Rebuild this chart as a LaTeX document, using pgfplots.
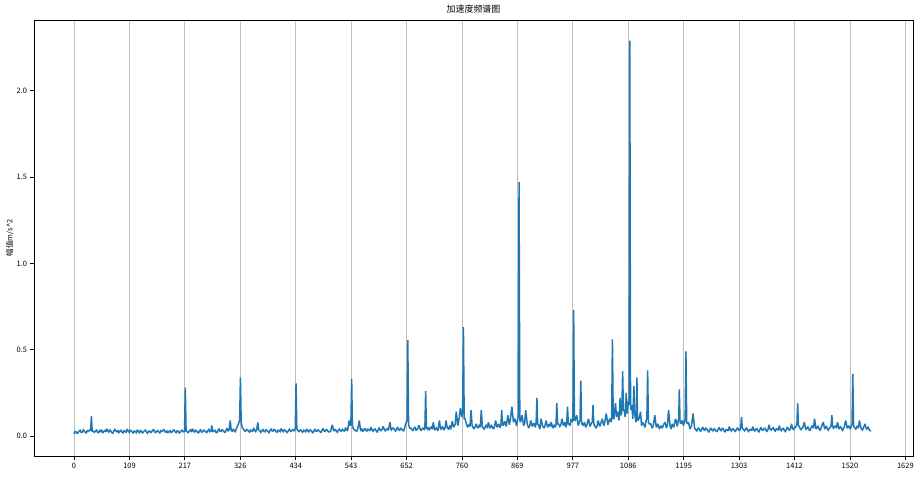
\documentclass[border=0pt]{standalone}
\usepackage{fontspec}
\setmainfont{Noto Sans CJK SC}
\usepackage{pgfplots}
\pgfplotsset{compat=1.18}
\definecolor{mplblue}{HTML}{1F77B4}
\begin{document}
\begin{tikzpicture}
\begin{axis}[
  scale only axis, width=879bp, height=436bp,
  xmin=-78.5, xmax=1644, ymin=-0.116, ymax=2.41,
  xtick={0,108.6,217.2,325.8,434.4,543,651.6,760.2,868.8,977.4,1086,1194.6,1303.2,1411.8,1520.4,1629},
  xticklabels={0,109,217,326,434,543,652,760,869,977,1086,1195,1303,1412,1520,1629},
  ytick={0,0.5,1,1.5,2},
  yticklabels={0.0,0.5,1.0,1.5,2.0},
  xmajorgrids,
  grid style={color=black!25, line width=0.8bp},
  tick align=outside, tick pos=left,
  major tick length=3.5bp,
  tick style={black, line width=0.8bp},
  axis line style={black, line width=0.8bp},
  ticklabel style={font=\fontsize{7.5}{9}\selectfont},
  title={加速度频谱图},
  title style={font=\fontsize{9}{11}\selectfont, yshift=-3bp},
  ylabel={幅值m/s\textasciicircum 2},
  ylabel style={font=\fontsize{7.5}{9}\selectfont, yshift=-4bp},
]
\addplot[mplblue, line width=1.5bp, line join=miter, miter limit=2] coordinates {
(0,0.012)(2,0.026)(4,0.024)(6,0.015)(8,0.019)(10,0.029)(12,0.033)(14,0.020)(16,0.022)(18,0.035)(20,0.030)(22,0.021)(24,0.018)(26,0.031)(28,0.027)(31,0.036)(32.5,0.030)(34,0.115)(35.5,0.028)(37,0.028)(40,0.021)(42,0.030)(44,0.034)(46,0.022)(48,0.019)(50,0.032)(52,0.026)(54,0.036)(56,0.017)(58,0.025)(60,0.031)(62,0.024)(64,0.042)(66,0.028)(68,0.022)(70,0.035)(72,0.029)(74,0.019)(76,0.016)(78,0.030)(80,0.038)(82,0.027)(84,0.024)(86,0.033)(88,0.020)(90,0.028)(92,0.033)(94,0.021)(96,0.018)(98,0.031)(100,0.027)(102,0.020)(104,0.040)(106,0.029)(108,0.021)(110,0.034)(112,0.030)(114,0.022)(116,0.017)(118,0.029)(120,0.025)(122,0.019)(124,0.036)(126,0.026)(128,0.019)(130,0.032)(132,0.028)(134,0.018)(136,0.022)(138,0.031)(140,0.034)(142,0.023)(144,0.016)(146,0.027)(148,0.029)(150,0.020)(152,0.023)(154,0.033)(156,0.037)(158,0.024)(160,0.020)(162,0.028)(164,0.031)(166,0.022)(168,0.018)(170,0.030)(172,0.026)(174,0.031)(176,0.039)(178,0.025)(180,0.022)(182,0.029)(184,0.017)(186,0.026)(188,0.030)(190,0.020)(192,0.024)(194,0.032)(196,0.035)(198,0.023)(200,0.019)(202,0.030)(204,0.028)(206,0.018)(208,0.021)(210,0.031)(212,0.033)(214,0.024)(216.5,0.026)(218,0.28)(219.5,0.030)(222,0.024)(224,0.020)
(226,0.030)(228,0.034)(230,0.023)(232,0.043)(234,0.028)(236,0.022)(238,0.033)(240,0.029)(242,0.021)(244,0.018)(246,0.031)(248,0.036)(250,0.022)(252,0.025)(254,0.034)(256,0.031)(258,0.024)(260,0.020)(262,0.030)(264,0.038)(266,0.025)(268,0.027)(270,0.060)(272,0.024)(274,0.030)(276,0.033)(278,0.022)(280,0.019)(282,0.032)(284,0.040)(286,0.027)(288,0.026)(290,0.036)(292,0.032)(294,0.024)(296,0.021)(298,0.034)(300,0.045)(302,0.030)(304,0.036)(306,0.090)(308,0.032)(310,0.028)(312,0.041)(314,0.030)(316,0.025)(319,0.050)(322,0.070)(324.5,0.090)(326,0.340)(327.5,0.080)(330,0.045)(332,0.040)(334,0.030)(336,0.027)(338,0.038)(340,0.036)(342,0.027)(344,0.022)(346,0.034)(348,0.031)(350,0.025)(352,0.047)(354,0.032)(356,0.026)(358,0.038)(360,0.078)(362,0.034)(364,0.030)(366,0.021)(368,0.030)(370,0.037)(372,0.026)(374,0.024)(376,0.036)(378,0.033)(380,0.025)(382,0.019)(384,0.031)(386,0.042)(388,0.030)(390,0.028)(392,0.038)(394,0.035)(396,0.024)(398,0.022)(400,0.034)(402,0.030)(404,0.025)(406,0.044)(408,0.031)(410,0.025)(412,0.036)(414,0.032)(416,0.024)(418,0.020)(420,0.031)(422,0.039)(424,0.028)(426,0.027)(428,0.036)(430,0.034)(432,0.028)(433.5,0.045)(435,0.305)(436.5,0.040)(439,0.030)(441,0.026)
(442,0.031)(444,0.035)(446,0.027)(448,0.022)(450,0.033)(452,0.030)(454,0.024)(456,0.041)(458,0.030)(460,0.024)(462,0.035)(464,0.033)(466,0.025)(468,0.019)(470,0.030)(472,0.038)(474,0.028)(476,0.027)(478,0.036)(480,0.031)(482,0.024)(484,0.021)(486,0.033)(488,0.043)(490,0.029)(492,0.026)(494,0.037)(496,0.034)(498,0.026)(500,0.023)(503,0.030)(506,0.065)(509,0.028)(510,0.034)(512,0.037)(514,0.028)(516,0.022)(518,0.033)(520,0.040)(522,0.030)(524,0.027)(526,0.038)(528,0.033)(530,0.027)(532,0.049)(534,0.036)(536,0.030)(539,0.090)(541,0.060)(542.5,0.070)(544,0.330)(545.5,0.055)(548,0.040)(550,0.035)(552,0.030)(554,0.028)(556,0.042)(559,0.090)(561,0.040)(562,0.033)(564,0.040)(566,0.025)(568,0.035)(570,0.044)(572,0.032)(574,0.029)(576,0.040)(578,0.036)(580,0.030)(582,0.052)(584,0.035)(586,0.027)(588,0.038)(590,0.040)(592,0.030)(594,0.023)(596,0.036)(598,0.048)(600,0.033)(602,0.031)(604,0.042)(606,0.055)(608,0.036)(610,0.030)(612,0.040)(614,0.042)(616,0.032)(617,0.050)(619,0.080)(621,0.040)(622,0.035)(624,0.045)(626,0.046)(628,0.034)(630,0.028)(632,0.040)(634,0.052)(636,0.036)(638,0.033)(640,0.044)(642,0.040)(644,0.032)(646,0.030)(650,0.070)(652.5,0.090)(654,0.555)(655.5,0.065)(658,0.045)(660,0.045)
(662,0.036)(664,0.032)(666,0.045)(668,0.050)(670,0.034)(672,0.036)(674,0.048)(676,0.062)(678,0.040)(680,0.030)(682,0.042)(684,0.045)(686,0.038)(687.5,0.050)(689,0.260)(690.5,0.045)(692,0.040)(694,0.050)(696,0.033)(698,0.045)(700,0.052)(702,0.040)(704,0.080)(706,0.040)(707,0.036)(710,0.047)(712,0.038)(713,0.030)(716,0.090)(718,0.045)(719,0.040)(722,0.055)(724,0.038)(725,0.034)(727,0.048)(729,0.090)(731,0.050)(732,0.045)(734,0.038)(736,0.060)(738,0.038)(741,0.085)(744,0.050)(747,0.070)(749,0.140)(752,0.060)(754,0.090)(757,0.160)(760,0.110)(761.5,0.150)(763,0.630)(764.5,0.100)(766,0.100)(768,0.080)(771,0.050)(774,0.065)(776,0.055)(778,0.150)(780,0.060)(781,0.055)(784,0.040)(786,0.055)(788,0.070)(791,0.045)(794,0.060)(796,0.050)(798,0.150)(800,0.060)(801,0.050)(804,0.038)(806,0.055)(808,0.065)(810,0.045)(812,0.080)(815,0.045)(818,0.060)(820,0.050)(822,0.040)(824,0.055)(826,0.090)(829,0.050)(832,0.070)(835,0.048)(836.5,0.065)(838,0.150)(839.5,0.070)(841,0.060)(844,0.085)(847,0.055)(850,0.120)(853,0.065)(855,0.095)(858,0.170)(861,0.080)(864,0.100)(867,0.060)(869,0.090)(870.5,0.120)(872,1.470)(873.5,0.090)(875,0.080)(878,0.120)
(881,0.060)(883,0.075)(885,0.150)(888,0.070)(891,0.045)(893,0.060)(895,0.090)(898,0.055)(901,0.075)(904,0.050)(905.5,0.080)(907,0.220)(908.5,0.070)(910,0.065)(913,0.040)(915,0.100)(918,0.060)(921,0.045)(923,0.060)(925,0.090)(928,0.050)(931,0.070)(933,0.055)(935,0.080)(938,0.045)(941,0.065)(943,0.050)(944.5,0.070)(946,0.190)(947.5,0.070)(949,0.070)(952,0.055)(954,0.065)(956,0.100)(959,0.060)(962,0.080)(964,0.050)(965.5,0.080)(967,0.170)(968.5,0.070)(970,0.070)(972,0.060)(974,0.100)(976,0.080)(977.5,0.100)(979,0.730)(980.5,0.090)(982,0.090)(985,0.120)(988,0.060)(990,0.080)(991.5,0.090)(993,0.320)(994.5,0.070)(996,0.070)(998,0.060)(1000,0.080)(1003,0.050)(1005,0.065)(1008,0.100)(1011,0.055)(1014,0.075)(1015.5,0.080)(1017,0.180)(1018.5,0.070)(1020,0.060)(1023,0.045)(1025,0.060)(1027,0.090)(1030,0.055)(1032,0.070)(1035,0.100)(1038,0.060)(1040,0.080)(1043,0.130)(1046,0.065)(1048,0.085)(1050,0.100)(1052,0.080)(1053.5,0.110)(1055,0.560)(1056.5,0.100)(1058,0.100)(1061,0.190)(1063,0.110)
(1066,0.140)(1068,0.090)(1070,0.220)(1072,0.120)(1073.5,0.150)(1075,0.375)(1076.5,0.150)(1078,0.150)(1080,0.110)(1082,0.250)(1084,0.130)(1086,0.200)(1087.5,0.180)(1089,2.290)(1090.5,0.160)(1092,0.150)(1093,0.180)(1095,0.100)(1097,0.290)(1099,0.120)(1101,0.080)(1102,0.100)(1103,0.340)(1104,0.100)(1105,0.090)(1107,0.100)(1110,0.140)(1112,0.060)(1114,0.080)(1116,0.070)(1119,0.050)(1121,0.090)(1122.5,0.100)(1124,0.380)(1125.5,0.080)(1127,0.070)(1130,0.070)(1133,0.045)(1135,0.060)(1138,0.120)(1141,0.050)(1144,0.070)(1147,0.040)(1150,0.060)(1153,0.045)(1155,0.065)(1158,0.080)(1161,0.045)(1163,0.070)(1165,0.150)(1168,0.055)(1170,0.040)(1172,0.070)(1175,0.050)(1177,0.080)(1179,0.100)(1182,0.055)(1184,0.090)(1185,0.100)(1186,0.270)(1187.5,0.080)(1189,0.070)(1192,0.090)(1194,0.060)(1196,0.080)(1197.5,0.100)(1199,0.490)(1200.5,0.080)(1202,0.070)(1204,0.080)(1207,0.040)(1210,0.060)(1213,0.130)(1216,0.045)
(1218,0.038)(1220,0.030)(1222,0.040)(1224,0.045)(1226,0.033)(1228,0.028)(1230,0.040)(1232,0.052)(1234,0.036)(1236,0.033)(1238,0.045)(1240,0.040)(1242,0.030)(1244,0.024)(1246,0.036)(1248,0.047)(1250,0.034)(1252,0.030)(1254,0.042)(1256,0.038)(1258,0.029)(1260,0.026)(1262,0.038)(1264,0.050)(1266,0.035)(1268,0.031)(1270,0.044)(1272,0.043)(1274,0.030)(1276,0.025)(1278,0.037)(1280,0.036)(1282,0.030)(1284,0.055)(1286,0.036)(1288,0.029)(1290,0.040)(1292,0.041)(1294,0.031)(1296,0.027)(1298,0.038)(1300,0.048)(1302,0.035)(1304,0.032)(1306.5,0.050)(1308,0.110)(1309.5,0.045)(1311,0.040)(1314,0.030)(1316,0.040)(1318,0.046)(1320,0.033)(1322,0.026)(1324,0.037)(1326,0.038)(1328,0.030)(1330,0.055)(1332,0.036)(1334,0.029)(1336,0.040)(1338,0.042)(1340,0.031)(1342,0.024)(1344,0.037)(1346,0.050)(1348,0.036)(1350,0.033)(1352,0.042)(1354,0.045)(1356,0.032)(1358,0.027)(1360,0.040)(1362,0.065)(1364,0.038)(1366,0.035)(1368,0.044)(1370,0.048)(1372,0.034)(1374,0.028)(1376,0.042)(1378,0.040)(1380,0.033)(1382,0.060)(1384,0.038)(1386,0.031)(1388,0.042)(1390,0.044)(1392,0.032)(1394,0.026)(1396,0.040)(1398,0.052)(1400,0.037)(1402,0.034)(1404,0.046)(1406,0.070)(1408,0.042)(1410,0.038)(1412,0.050)(1414,0.050)(1416.5,0.070)(1418,0.190)(1419.5,0.060)(1421,0.055)(1424,0.035)(1426,0.045)(1428,0.048)(1431,0.080)(1434,0.036)(1436,0.046)(1438,0.052)(1440,0.038)(1442,0.030)(1444,0.045)(1446,0.060)(1449,0.045)(1451,0.100)(1454,0.040)(1456,0.050)(1458,0.055)(1460,0.040)(1462,0.032)(1464,0.048)(1466,0.065)(1468,0.080)(1471,0.040)(1474,0.058)(1476,0.042)(1478,0.034)(1480,0.045)(1482,0.050)(1483.5,0.060)(1485,0.120)(1486.5,0.055)(1488,0.045)(1490,0.052)(1492,0.060)(1494,0.045)(1496,0.080)(1499,0.040)(1502,0.055)(1504,0.042)(1506,0.033)(1509,0.050)(1512,0.090)(1515,0.045)(1518,0.060)(1521,0.040)(1523,0.055)(1524.5,0.070)(1526,0.360)(1527.5,0.060)(1529,0.050)(1532,0.040)(1535,0.060)(1537,0.045)(1539,0.090)(1542,0.045)(1545,0.035)(1548,0.055)(1550,0.070)(1553,0.038)(1556,0.050)(1559,0.032)(1562,0.030)
};
\end{axis}
\path (current axis.south west) ++(-34bp,-38bp) coordinate (bbA);
\path (current axis.north east) ++(10bp,20bp) coordinate (bbB);
\path (bbA) rectangle (bbB);
\end{tikzpicture}
\end{document}
